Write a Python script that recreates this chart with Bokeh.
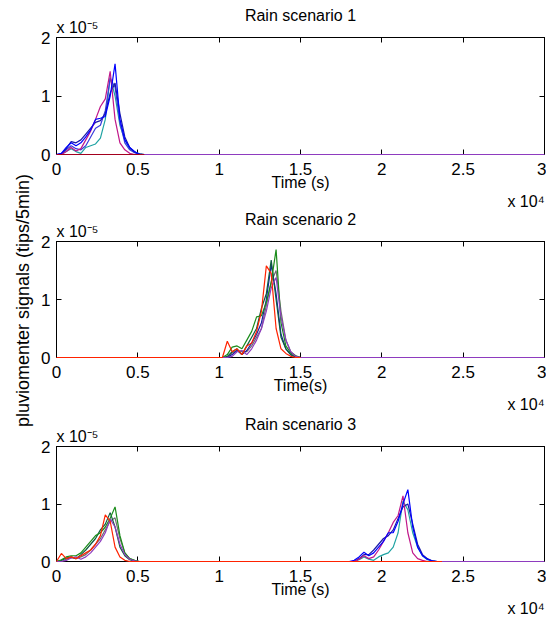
from bokeh.plotting import figure
from bokeh.models import LinearAxis, FixedTicker, Range1d, Title
from bokeh.layouts import column, row
from bokeh.embed import file_html
from bokeh.resources import INLINE

FONT = "Liberation Sans"

# ---- axes ----
x_ticks = [0, 5000, 10000, 15000, 20000, 25000, 30000]
x_tick_labels = ["0", "0.5", "1", "1.5", "2", "2.5", "3"]
y_ticks = [0, 1, 2]            # signal in units of 1e-5 tips/5min
y_tick_labels = ["0", "1", "2"]
t_end = 30000

titles = ["Rain scenario 1", "Rain scenario 2", "Rain scenario 3"]
xlabels = ["Time (s)", "Time(s)", "Time (s)"]
ylabel = "pluviomenter signals (tips/5min)"
y_mult = "x 10\u207b\u2075"
x_mult = "x 10\u2074"

# ---- scenario 1 (time in s, signals in 1e-5) ----
t1 = [0, 300, 600, 900, 1200, 1500, 1800, 2100, 2400, 2700, 3000, 3300,
      3600, 3900, 4200, 4500, 4800, 5100, 5400]
s1_blue = [0, 0.02, 0.12, 0.20, 0.15, 0.20, 0.30, 0.42, 0.60, 0.62, 0.65, 1.00,
           1.55, 0.60, 0.25, 0.12, 0.05, 0.00, 0]
s1_navy = [0, 0.00, 0.10, 0.22, 0.20, 0.25, 0.35, 0.45, 0.55, 0.58, 0.70, 1.05,
           1.22, 0.70, 0.30, 0.12, 0.04, 0.01, 0]
s1_violet = [0, 0.02, 0.08, 0.15, 0.10, 0.08, 0.15, 0.30, 0.45, 0.50, 0.75, 1.30,
             1.15, 0.55, 0.20, 0.08, 0.03, 0.00, 0]
s1_magenta = [0, 0.00, 0.05, 0.12, 0.06, 0.10, 0.25, 0.40, 0.60, 0.82, 0.95, 1.42,
              0.60, 0.20, 0.08, 0.02, 0.00, 0.00, 0]
s1_teal = [0, 0.00, 0.05, 0.10, 0.05, 0.02, 0.12, 0.15, 0.18, 0.28, 0.60, 1.32,
           1.00, 0.50, 0.25, 0.10, 0.04, 0.01, 0]
s1_red = [0, 0, 0, 0, 0, 0, 0, 0, 0, 0, 0, 0, 0, 0, 0, 0, 0, 0, 0]
s1_purple = [0, 0, 0, 0, 0, 0, 0, 0, 0, 0, 0, 0, 0, 0, 0, 0, 0, 0, 0, 0]

# ---- scenario 2 ----
t2 = [10200, 10500, 10800, 11100, 11400, 11700, 12000, 12300, 12600, 12900,
      13200, 13500, 13800, 14100, 14400, 14700, 15000]
s2_red = [0, 0, 0.28, 0.10, 0.15, 0.05, 0.20, 0.25, 0.45, 0.80, 1.58, 1.45, 0.50,
          0.15, 0.07, 0.02, 0.00, 0]
s2_green = [0, 0.05, 0.18, 0.20, 0.15, 0.30, 0.45, 0.70, 0.72, 0.95, 1.30, 1.86,
            0.60, 0.20, 0.08, 0.03, 0]
s2_dkgreen = [0, 0.02, 0.10, 0.15, 0.05, 0.20, 0.35, 0.50, 0.85, 1.10, 1.68, 1.00,
              0.35, 0.15, 0.05, 0.01, 0]
s2_gray = [0, 0.00, 0.08, 0.12, 0.10, 0.10, 0.20, 0.35, 0.50, 0.90, 1.30, 1.50,
           0.80, 0.30, 0.10, 0.03, 0]
s2_navy = [0, 0.00, 0.05, 0.12, 0.05, 0.12, 0.25, 0.40, 0.60, 1.00, 1.60, 1.10,
           0.40, 0.15, 0.05, 0.01, 0]
s2_purple = [0, 0.00, 0.02, 0.10, 0.12, 0.05, 0.15, 0.30, 0.50, 0.80, 1.20, 1.38,
             0.70, 0.30, 0.10, 0.02, 0, 0]

# ---- scenario 3 (two events) ----
t3a = [0, 300, 600, 900, 1200, 1500, 1800, 2100, 2400, 2700, 3000, 3300,
       3600, 3900, 4200, 4500, 4800, 5100, 5400]
s3_green = [0, 0.03, 0.08, 0.10, 0.10, 0.15, 0.25, 0.35, 0.45, 0.50, 0.60, 0.75,
            0.95, 0.45, 0.15, 0.05, 0.02, 0, 0]
s3_dkgreen = [0, 0.02, 0.06, 0.08, 0.05, 0.12, 0.20, 0.30, 0.40, 0.55, 0.65, 0.85,
              0.60, 0.25, 0.10, 0.03, 0, 0, 0]
s3_gray = [0, 0.00, 0.04, 0.07, 0.05, 0.08, 0.12, 0.20, 0.30, 0.40, 0.55, 0.70,
           0.76, 0.40, 0.15, 0.05, 0.02, 0, 0]
s3_purple = [0, 0.00, 0.02, 0.06, 0.08, 0.04, 0.08, 0.15, 0.25, 0.35, 0.50, 0.74,
             0.60, 0.30, 0.12, 0.04, 0.01, 0, 0, 0]
t3b = [18000, 18300, 18600, 18900, 19200, 19500, 19800, 20100, 20400, 20700,
       21000, 21300, 21600, 21900, 22200, 22500, 22800, 23100, 23400, 23700]
s3_red = [0, 0.14, 0.05, 0.08, 0.05, 0.10, 0.15, 0.20, 0.30, 0.45, 0.81, 0.70,
          0.25, 0.08, 0.02, 0, 0, 0, 0,
          0, 0, 0, 0, 0, 0, 0, 0, 0, 0, 0, 0, 0, 0, 0, 0, 0, 0, 0, 0]
s3_blue = [0, 0.02, 0.08, 0.16, 0.10, 0.15, 0.25, 0.35, 0.50, 0.50, 0.70, 1.00,
           1.25, 0.60, 0.25, 0.10, 0.04, 0.01, 0, 0]
s3_navy = [0, 0.00, 0.05, 0.12, 0.12, 0.20, 0.30, 0.40, 0.45, 0.55, 0.75, 0.95,
           1.00, 0.65, 0.30, 0.12, 0.05, 0.01, 0, 0]
s3_magenta = [0, 0.00, 0.04, 0.10, 0.05, 0.08, 0.20, 0.35, 0.50, 0.68, 0.80, 1.14,
              0.50, 0.15, 0.05, 0.02, 0, 0, 0, 0]
s3_teal = [0, 0.00, 0.03, 0.08, 0.04, 0.02, 0.08, 0.12, 0.15, 0.25, 0.50, 1.05,
           0.90, 0.50, 0.25, 0.10, 0.03, 0.01, 0, 0]

# ---- colours ----
BLUE = "#0000ff"
NAVY = "#1a1aa8"
VIOLET = "#3b3bdc"
TEAL = "#1fa3a3"
MAGENTA = "#c0178a"
RED = "#ff2200"
DARKRED = "#a3001e"
GREEN = "#1a8c1a"
DKGREEN = "#0e5c40"
GRAY = "#6e6e6e"
PURPLE = "#8e3bbf"

LW = 1.2
LEFT_W = 36          # width of the strip that holds the common y label


def txt_title(text, align, standoff):
    return Title(text=text, align=align, vertical_align="bottom",
                 standoff=standoff, text_font=FONT, text_font_size="16px",
                 text_font_style="normal", text_color="black")


def make_fig(i, height, top, bottom):
    p = figure(width=546 - LEFT_W, height=height, x_range=Range1d(0, t_end),
               y_range=Range1d(0, 2), output_backend="svg",
               toolbar_location=None, min_border_left=56 - LEFT_W,
               min_border_right=2, min_border_top=top, min_border_bottom=bottom)
    p.xgrid.visible = False
    p.ygrid.visible = False
    p.outline_line_color = "black"
    p.background_fill_color = "white"
    p.border_fill_color = "white"
    xax = p.xaxis[0]
    yax = p.yaxis[0]
    xax.ticker = FixedTicker(ticks=x_ticks)
    yax.ticker = FixedTicker(ticks=y_ticks)
    xax.major_label_overrides = {t: l for t, l in zip(x_ticks, x_tick_labels)}
    yax.major_label_overrides = {t: l for t, l in zip(y_ticks, y_tick_labels)}
    for ax in (xax, yax):
        ax.major_tick_in = 5
        ax.major_tick_out = 0
        ax.minor_tick_line_color = None
        ax.axis_line_color = "black"
        ax.major_tick_line_color = "black"
        ax.major_label_text_font = FONT
        ax.major_label_text_font_size = "17px"
        ax.major_label_text_color = "black"
    xax.major_label_standoff = 8
    yax.major_label_standoff = 6
    xax.axis_label = xlabels[i]
    xax.axis_label_text_font = FONT
    xax.axis_label_text_font_style = "normal"
    xax.axis_label_text_color = "black"
    xax.axis_label_text_font_size = "16px"
    xax.axis_label_standoff = -4
    # box: top and right axes carry inward ticks only
    top_ax = LinearAxis(ticker=FixedTicker(ticks=x_ticks), major_tick_in=5,
                        major_tick_out=0, minor_tick_line_color=None,
                        major_label_text_font_size="1px",
                        major_label_text_color=None, major_label_standoff=0,
                        axis_line_color="black")
    right_ax = LinearAxis(ticker=FixedTicker(ticks=y_ticks), major_tick_in=5,
                          major_tick_out=0, minor_tick_line_color=None,
                          major_label_text_font_size="1px",
                          major_label_text_color=None, major_label_standoff=0,
                          axis_line_color="black")
    p.add_layout(top_ax, "above")
    p.add_layout(right_ax, "right")
    # y exponent (inner) and panel title (outer)
    p.add_layout(txt_title(y_mult, "left", 3), "above")
    p.add_layout(txt_title(titles[i], "center", -16), "above")
    # x exponent below, right
    p.add_layout(txt_title(x_mult, "right", -5), "below")
    return p


def draw(p, t, s, c):
    p.line(t, s, line_color=c, line_width=LW, level="overlay")


# ---- panel 1 ----
f1 = make_fig(0, 212, 37, 58)
for s, c in [(s1_teal, TEAL), (s1_violet, VIOLET), (s1_navy, NAVY),
             (s1_magenta, MAGENTA), (s1_blue, BLUE)]:
    draw(f1, t1, s, c)
draw(f1, t1 + [t_end], s1_purple, PURPLE)
draw(f1, t1, s1_red, DARKRED)

# ---- panel 2 ----
f2 = make_fig(1, 205, 29, 60)
for s, c in [(s2_gray, GRAY), (s2_navy, NAVY), (s2_dkgreen, DKGREEN),
             (s2_green, GREEN)]:
    draw(f2, t2, s, c)
draw(f2, t2 + [t_end], s2_purple, PURPLE)
draw(f2, [0] + t2, s2_red, RED)

# ---- panel 3 ----
f3 = make_fig(2, 201, 29, 57)
for s, c in [(s3_gray, GRAY), (s3_dkgreen, DKGREEN), (s3_green, GREEN)]:
    draw(f3, t3a, s, c)
for s, c in [(s3_teal, TEAL), (s3_navy, NAVY), (s3_magenta, MAGENTA),
             (s3_blue, BLUE)]:
    draw(f3, t3b, s, c)
draw(f3, t3a + [t_end], s3_purple, PURPLE)
draw(f3, t3a + t3b, s3_red, RED)

# ---- common y label in a narrow strip on the left ----
lab = figure(width=LEFT_W, height=618, x_range=Range1d(0, 1),
             y_range=Range1d(0, 1), output_backend="svg",
             toolbar_location=None, x_axis_location=None,
             min_border_left=33, min_border_right=0, min_border_top=0,
             min_border_bottom=18)
lab.xgrid.visible = False
lab.ygrid.visible = False
lab.outline_line_color = None
lab.background_fill_color = "white"
lab.border_fill_color = "white"
lax = lab.yaxis[0]
lax.ticker = FixedTicker(ticks=[])
lax.axis_line_color = None
lax.major_tick_line_color = None
lax.minor_tick_line_color = None
lax.axis_label = ylabel
lax.axis_label_text_font = FONT
lax.axis_label_text_font_style = "normal"
lax.axis_label_text_color = "black"
lax.axis_label_text_font_size = "18px"
lax.axis_label_standoff = 1

layout = row(lab, column(f1, f2, f3, spacing=0), spacing=0)
open("out.html", "w").write(file_html(layout, INLINE))
